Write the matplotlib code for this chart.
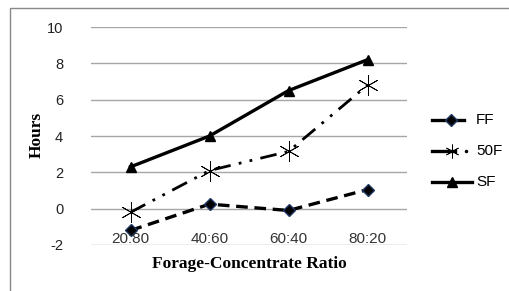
import matplotlib.pyplot as plt
from matplotlib.patches import Rectangle
from matplotlib.lines import Line2D

categories = ['20:80', '40:60', '60:40', '80:20']
ff = [-1.2, 0.25, -0.1, 1.05]
f50 = [-0.2, 2.1, 3.15, 6.8]
sf = [2.3, 4.0, 6.5, 8.2]
yticks = [-2, 0, 2, 4, 6, 8, 10]


def main():
    fig = plt.figure(figsize=(5.1, 2.91), dpi=100)
    W, H = 510, 291
    ax = fig.add_axes([91 / W, 1 - 245 / H, (407 - 91) / W, (245 - 27) / H])

    x = [i + 0.5 for i in range(len(categories))]
    ax.plot(x, ff, color='black', lw=2.4, dashes=(3.5, 2), marker='D', ms=6,
            mfc='black', mec='#1f3864')
    ax.plot(x, f50, color='black', lw=2.0, dashes=(6, 3, 1, 3, 1, 3))
    ax.plot(x, f50, ls='none', marker=(6, 2, 0), ms=15, mew=0.6, color='black')
    ax.plot(x, sf, color='black', lw=2.4, marker='^', ms=7)

    ax.set_xlim(0, 4)
    ax.set_ylim(-2, 10)
    ax.set_yticks(yticks)
    ax.set_yticklabels([str(v) for v in yticks], fontsize=10.5, family='Liberation Sans',
                       color='#222222')
    ax.set_xticks([])
    ax.yaxis.grid(True, color='#a6a6a6', lw=1)
    ax.set_axisbelow(True)
    for s in ax.spines.values():
        s.set_visible(False)
    ax.tick_params(axis='y', length=0, pad=20)

    for xi, c in zip(x, categories):
        ax.text(xi, -1.3, c, ha='center', va='top', fontsize=11,
                family='Liberation Sans', color='#333333')

    fig.text(37 / W, 1 - 135 / H, 'Hours', rotation=90, ha='center', va='center',
             fontsize=12.5, fontweight='bold', family='Liberation Serif')
    fig.text(249 / W, 1 - 264 / H, 'Forage-Concentrate Ratio', ha='center', va='center',
             fontsize=12.5, fontweight='bold', family='Liberation Serif')

    # legend drawn by hand in figure coordinates
    ly = [120, 151, 182]
    labels = ['FF', '50F', 'SF']
    for y, lab in zip(ly, labels):
        fig.text(476 / W, 1 - y / H, lab, ha='left', va='center', fontsize=11,
                 family='Liberation Sans')
    y0 = 1 - ly[0] / H
    fig.add_artist(Line2D([432 / W, 464 / W], [y0, y0], color='black', lw=2.4))
    fig.add_artist(Line2D([451 / W], [y0], marker='D', ms=6, mfc='black', mec='#1f3864',
                          color='black'))
    y1 = 1 - ly[1] / H
    fig.add_artist(Line2D([432 / W, 455 / W], [y1, y1], color='black', lw=2.4))
    fig.add_artist(Line2D([452 / W], [y1], marker=(6, 2, 0), ms=10, mew=0.6, color='black'))
    fig.add_artist(Line2D([466 / W], [y1], marker='o', ms=1.5, color='black'))
    y2 = 1 - ly[2] / H
    fig.add_artist(Line2D([432 / W, 472 / W], [y2, y2], color='black', lw=2.4))
    fig.add_artist(Line2D([452 / W], [y2], marker='^', ms=7, color='black'))

    fig.add_artist(Rectangle((10 / W, -0.1), 1.2, 1 - 8 / H + 0.1, fill=False,
                             ec='#888888', lw=1))

    fig.savefig('out.png', dpi=100)


if __name__ == "__main__":
    main()
